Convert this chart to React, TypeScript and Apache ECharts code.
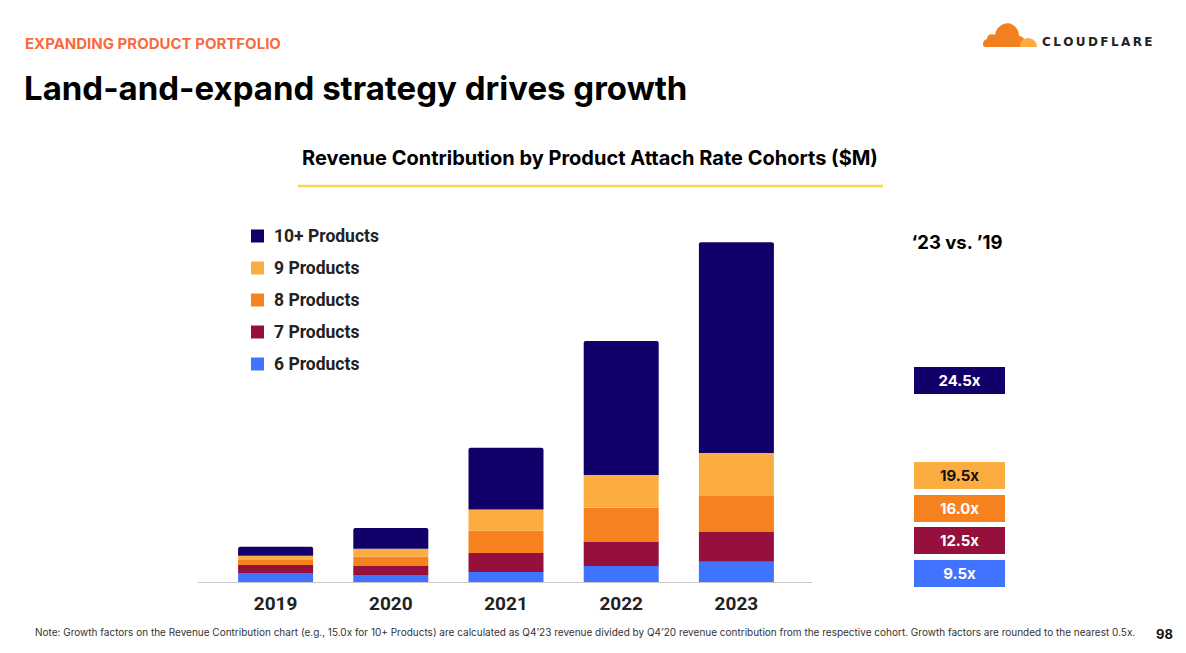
import React, { useEffect, useRef } from "react";
import * as echarts from "echarts";

const years = ["2019", "2020", "2021", "2022", "2023"];
const cohortNames = ["6 Products", "7 Products", "8 Products", "9 Products", "10+ Products"];
const products6 = [9, 7, 10, 16, 20.3];
const products7 = [8, 9, 19, 24, 29.7];
const products8 = [5, 9.3, 22.3, 34.3, 36];
const products9 = [4.3, 8, 21.3, 32.7, 43];
const products10 = [9, 20.7, 61.7, 134, 210.7];
const growthLabels = ["24.5x", "19.5x", "16.0x", "12.5x", "9.5x"];
const legendOrder = ["10+ Products", "9 Products", "8 Products", "7 Products", "6 Products"];

const colors = ["#4073FF", "#95103D", "#F6821F", "#FBAD41", "#12006A"];
const seriesData = [products6, products7, products8, products9, products10];

const cloudPath =
  "M2,26 C-1,26 -1,19 4,18 C4,14 8,12 12,14 C13,5 23,-1 30,4 C35,7 36,12 36,15 C40,15 43,19 43,26 Z";
const cloudSmall = "M37,26 C37,21 40,17 45,17 C50,17 54,21 54,26 Z";

let registered = false;
function registerShapes() {
  if (registered) return;
  registered = true;
  echarts.graphic.registerShape("cfcloud", echarts.graphic.extendPath(cloudPath, {}));
  echarts.graphic.registerShape("cfcloudsmall", echarts.graphic.extendPath(cloudSmall, {}));
}

export default function App() {
  const ref = useRef<HTMLDivElement>(null);
  useEffect(() => {
    registerShapes();
    const chart = echarts.init(ref.current!, undefined, { renderer: "svg" });
    const boxes = [
      { y: 367, fill: "#12006A", color: "#fff" },
      { y: 462, fill: "#FBAD41", color: "#111" },
      { y: 495, fill: "#F6821F", color: "#fff" },
      { y: 527, fill: "#95103D", color: "#fff" },
      { y: 560, fill: "#4073FF", color: "#fff" },
    ];
    const graphics: any[] = [
      {
        type: "text",
        left: 25,
        top: 36,
        style: { text: "EXPANDING PRODUCT PORTFOLIO", fill: "#F76B3C", font: "bold 15px Inter" },
      },
      {
        type: "text",
        left: 24,
        top: 71,
        style: { text: "Land-and-expand strategy drives growth", fill: "#000", font: "bold 33px Inter" },
      },
      {
        type: "text",
        x: 590,
        y: 158,
        style: {
          text: "Revenue Contribution by Product Attach Rate Cohorts ($M)",
          fill: "#000",
          font: "bold 20px Inter",
          align: "center",
          verticalAlign: "middle",
        },
      },
      {
        type: "line",
        shape: { x1: 298, y1: 186, x2: 883, y2: 186 },
        style: { stroke: "#FCD34D", lineWidth: 2.5 },
      },
      {
        type: "line",
        shape: { x1: 198, y1: 582.5, x2: 812, y2: 582.5 },
        style: { stroke: "#C8C8C8", lineWidth: 1 },
      },
      {
        type: "text",
        x: 957,
        y: 242,
        style: {
          text: "\u201823 vs. \u201919",
          fill: "#000",
          font: "bold 18.5px Inter",
          align: "center",
          verticalAlign: "middle",
        },
      },
      {
        type: "text",
        x: 35,
        y: 632,
        style: {
          text:
            "Note: Growth factors on the Revenue Contribution chart (e.g., 15.0x for 10+ Products) are calculated as Q4\u201923 revenue divided by Q4\u201920 revenue contribution from the respective cohort. Growth factors are rounded to the nearest 0.5x.",
          fill: "#333",
          font: "10px Inter",
          verticalAlign: "middle",
        },
      },
      {
        type: "text",
        x: 1156,
        y: 634,
        style: { text: "98", fill: "#111", font: "bold 13px Inter", verticalAlign: "middle" },
      },
      {
        type: "cfcloud",
        x: 983,
        y: 21,
        style: { fill: "#F38020" },
      },
      {
        type: "cfcloudsmall",
        x: 983,
        y: 21,
        style: { fill: "#FBAD41" },
      },
      {
        type: "text",
        x: 1042,
        y: 42,
        style: {
          text: "C\u2009L\u2009O\u2009U\u2009D\u2009F\u2009L\u2009A\u2009R\u2009E",
          fill: "#222",
          font: "bold 12px 'DejaVu Sans'",
          verticalAlign: "middle",
        },
      },
    ];
    growthLabels.forEach((g, i) => {
      graphics.push({
        type: "group",
        x: 914,
        y: boxes[i].y,
        children: [
          { type: "rect", shape: { x: 0, y: 0, width: 91, height: 27 }, style: { fill: boxes[i].fill } },
          {
            type: "text",
            x: 45.5,
            y: 13.5,
            style: {
              text: g,
              fill: boxes[i].color,
              font: "bold 15px Inter",
              align: "center",
              verticalAlign: "middle",
            },
          },
        ],
      });
    });

    chart.setOption({
      animation: false,
      backgroundColor: "#fff",
      grid: { left: 218, right: 392, top: 232, bottom: 71 },
      legend: {
        data: legendOrder,
        orient: "vertical",
        left: 246,
        top: 221,
        icon: "rect",
        itemWidth: 13,
        itemHeight: 13,
        itemGap: 12,
        selectedMode: false,
        textStyle: {
          fontFamily: "Roboto",
          fontWeight: "bold",
          fontSize: 17.5,
          color: "#222",
          lineHeight: 20,
          padding: [0, 0, 0, 5],
        },
      },
      xAxis: {
        type: "category",
        data: years,
        axisLine: { show: false },
        axisTick: { show: false },
        axisLabel: {
          margin: 12,
          fontFamily: "Roboto",
          fontWeight: "bold",
          fontSize: 19,
          color: "#222",
        },
      },
      yAxis: {
        type: "value",
        min: 0,
        max: 350,
        show: false,
        splitLine: { show: false },
      },
      series: cohortNames.map((name, i) => ({
        name,
        type: "bar",
        stack: "total",
        barWidth: 75,
        data: seriesData[i],
        itemStyle: {
          color: colors[i],
          borderRadius: i === 4 ? [2, 2, 0, 0] : 0,
        },
      })),
      graphic: graphics,
    });
    return () => chart.dispose();
  }, []);
  return (
    <div
      ref={ref}
      style={{ position: "fixed", left: 0, top: 0, width: 1186, height: 653, background: "#fff" }}
    />
  );
}
